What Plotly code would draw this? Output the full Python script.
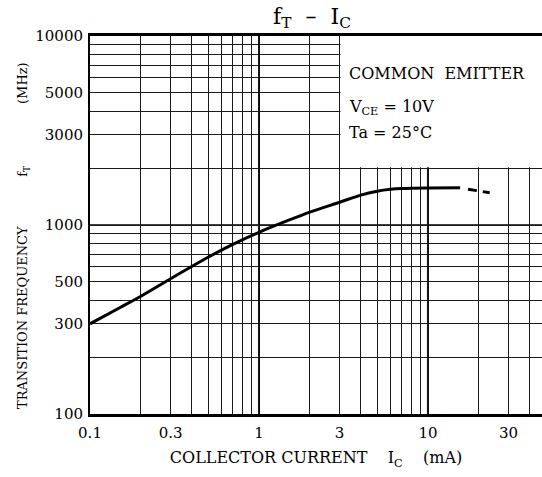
import plotly.graph_objects as go

# Data
ic_solid = [0.1, 0.15, 0.2, 0.3, 0.5, 0.7, 1, 1.5, 2, 3, 4, 5, 6, 7, 10, 15.5]
ft_solid = [300, 365, 420, 520, 675, 790, 915, 1060, 1170, 1320, 1440, 1510, 1545, 1560, 1570, 1572]
ic_dash = [15.5, 19, 23.3]
ft_dash = [1572, 1530, 1480]

x_tickvals = [0.1, 0.3, 1, 3, 10, 30]
x_ticktext = ["0.1", "0.3", "1", "3", "10", "30"]
x_minor = [0.2, 0.4, 0.5, 0.6, 0.7, 0.8, 0.9, 2, 4, 5, 6, 7, 8, 9, 20, 40]
y_tickvals = [100, 300, 500, 1000, 3000, 5000, 10000]
y_ticktext = ["100", "300", "500", "1000", "3000", "5000", "10000"]
y_minor = [200, 400, 600, 700, 800, 900, 2000, 4000, 6000, 7000, 8000, 9000]
x_decades = [1, 10]
y_decades = [1000]
blank_x = [3, 100]      # region kept free for the condition text
blank_y = [2000, 10000]

FONT = "DejaVu Serif"
GRID = "#1a1a1a"
NB = "\u00a0"

fig = go.Figure()
fig.add_trace(go.Scatter(x=ic_solid, y=ft_solid, mode="lines",
                         line=dict(color="black", width=3, shape="spline", smoothing=0.8),
                         showlegend=False, hoverinfo="skip"))
fig.add_trace(go.Scatter(x=ic_dash, y=ft_dash, mode="lines",
                         line=dict(color="black", width=3, dash="0px,8px,9px,6px,7px,100px"),
                         showlegend=False, hoverinfo="skip"))

shapes = []
for xv in x_decades:
    shapes.append(dict(type="line", xref="x", yref="paper", x0=xv, x1=xv, y0=0, y1=1,
                       line=dict(color="black", width=2), layer="below"))
for yv in y_decades:
    shapes.append(dict(type="line", xref="paper", yref="y", x0=0, x1=1, y0=yv, y1=yv,
                       line=dict(color="black", width=1.5), layer="below"))
shapes.append(dict(type="rect", xref="x", yref="y", x0=blank_x[0] * 1.012, x1=blank_x[1],
                   y0=blank_y[0] * 1.012, y1=blank_y[1], fillcolor="white", line=dict(width=0),
                   layer="between"))

cond_lines = ["COMMON" + NB * 2 + "EMITTER", "V<sub>CE</sub>" + NB + "=" + NB + "10V", "Ta" + NB + "=" + NB + "25°C"]
cond_y = [0.902, 0.81, 0.745]
annotations = []
for txt, yy in zip(cond_lines, cond_y):
    annotations.append(dict(text=txt, xref="paper", yref="paper", x=0.568, y=yy, xanchor="left",
                            yanchor="middle", showarrow=False, font=dict(family=FONT, size=16, color="black")))
# y-axis title placed as a rotated annotation for exact placement
annotations.append(dict(text="TRANSITION FREQUENCY" + NB * 12 + "f<sub>T</sub>" + NB * 15 + "(MHz)",
                        xref="paper", yref="paper", x=(23 - 90) / 452, y=(414 - 236) / 378,
                        xanchor="center", yanchor="middle", textangle=-90, showarrow=False,
                        font=dict(family=FONT, size=13, color="black")))

fig.update_layout(
    width=542, height=477,
    margin=dict(l=90, r=0, t=36, b=63, autoexpand=False),
    paper_bgcolor="white", plot_bgcolor="white",
    font=dict(family=FONT, color="black", size=14),
    title=dict(text="f<sub>T</sub>" + NB * 2 + "–" + NB * 2 + "I<sub>C</sub>", x=312 / 542, xanchor="center",
               y=1 - 16 / 477, yanchor="middle", yref="container", automargin=False,
               font=dict(family=FONT, size=22, color="black")),
    shapes=shapes,
    annotations=annotations,
)
fig.update_xaxes(
    type="log", range=[-1, 1.675], automargin=False,
    tickvals=x_tickvals, ticktext=x_ticktext, ticks="",
    showgrid=True, gridcolor=GRID, gridwidth=1,
    minor=dict(tickvals=x_minor, showgrid=True, gridcolor=GRID, gridwidth=1, ticks=""),
    showline=True, linecolor="black", linewidth=2.5, mirror=True,
    tickfont=dict(family=FONT, size=15), ticklabelstandoff=3,
    title=dict(text="COLLECTOR CURRENT" + NB * 4 + "I<sub>C</sub>" + NB * 4 + "(mA)",
               font=dict(family=FONT, size=16), standoff=12),
    zeroline=False,
)
fig.update_yaxes(
    type="log", range=[2, 4], automargin=False,
    tickvals=y_tickvals, ticktext=y_ticktext, ticks="",
    showgrid=True, gridcolor=GRID, gridwidth=1,
    minor=dict(tickvals=y_minor, showgrid=True, gridcolor=GRID, gridwidth=1, ticks=""),
    showline=True, linecolor="black", linewidth=2, mirror=False,
    tickfont=dict(family=FONT, size=15), ticklabelstandoff=2,
    zeroline=False,
)

fig.write_html("out.html", config={"displayModeBar": False},
               post_script="document.body.style.margin='0px';")
